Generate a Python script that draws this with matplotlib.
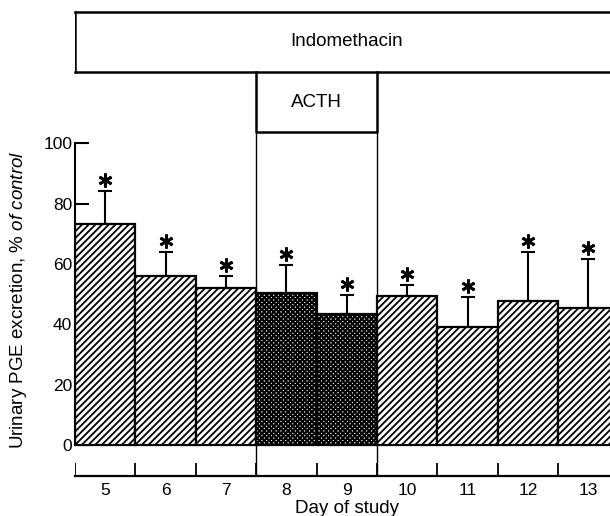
import matplotlib
matplotlib.use('Agg')
import matplotlib.pyplot as plt

# データ
days = [5, 6, 7, 8, 9, 10, 11, 12, 13]
pge_pct = [73.3, 56, 52, 50.3, 43.3, 49.3, 39, 47.7, 45.3]
pge_err = [10.7, 8, 4, 9.4, 6.4, 3.7, 10, 16.3, 16.4]
acth_days = [8, 9]

# 投与期間のラベル
treatments = ['Indomethacin', 'ACTH']
treat_start = [5, 8]
treat_end = [13, 9]

plt.rcParams['font.family'] = ['Liberation Sans', 'DejaVu Sans']
plt.rcParams['mathtext.fontset'] = 'custom'
plt.rcParams['mathtext.rm'] = 'Liberation Sans'
plt.rcParams['mathtext.it'] = 'Liberation Sans:italic'

fig = plt.figure(figsize=(6.1, 5.16), dpi=100)
ax = fig.add_axes([75 / 610, 0, 1 - 75 / 610, 1])
ax.set_xlim(4.5, 4.5 + 535 / 60.4)
ax.set_ylim(-23.5, 147.4)

# バー（ACTH 期間だけ網目）
plain_d = [d for d in days if d not in acth_days]
plain_v = [v for d, v in zip(days, pge_pct) if d not in acth_days]
acth_v = [v for d, v in zip(days, pge_pct) if d in acth_days]

with plt.rc_context({'hatch.linewidth': 1.3}):
    ax.bar(plain_d, plain_v, width=1.0, color='white', edgecolor='black',
           linewidth=1.6, hatch='/////', zorder=2)
with plt.rc_context({'hatch.linewidth': 1.5}):
    ax.bar(acth_days, acth_v, width=1.0, color='white', edgecolor='black',
           linewidth=1.6, hatch='xxxxxxx', zorder=2)

# 誤差棒（上側のみ）
ax.errorbar(days, pge_pct, yerr=[[0] * len(days), pge_err], fmt='none',
            ecolor='black', elinewidth=1.5, capsize=5.2, capthick=1.5, zorder=3)

# 有意差マーク
star_y = [v + e + 3.7 for v, e in zip(pge_pct, pge_err)]
ax.plot(days, star_y, linestyle='none', marker=(6, 2, 0), markersize=10,
        markeredgewidth=2.0, color='black', zorder=3)

# 縦軸
for s in ['top', 'right', 'bottom']:
    ax.spines[s].set_visible(False)
ax.spines['left'].set_bounds(0, 100)
ax.spines['left'].set_linewidth(1.5)
ax.set_yticks([0, 20, 40, 60, 80, 100])
ax.tick_params(axis='y', direction='in', length=10, width=1.5, pad=2,
               labelsize=12.5)
ax.set_xticks([])

# 日付の軸（ブラケット）
edges = [d - 0.5 for d in days]
ax.plot([edges[0], 14], [-10.3, -10.3], color='black', lw=1.6, clip_on=False)
ax.vlines(edges, -10.3, -6.0, color='black', lw=1.3)
for d in days:
    ax.text(d, -14.9, str(d), ha='center', va='center', fontsize=12.5)
ax.text(9, -20.9, 'Day of study', ha='center', va='center', fontsize=13.5)

# 投与期間の箱
ax.plot([4.5, 14], [143.4, 143.4], color='black', lw=1.8, clip_on=False)
ax.plot([4.5, 14], [123.5, 123.5], color='black', lw=1.8, clip_on=False)
ax.plot([4.5, 4.5], [123.5, 143.4], color='black', lw=1.8)
ax.text(9, 133.5, treatments[0], ha='center', va='center', fontsize=13.5)

a0, a1 = treat_start[1] - 0.5, treat_end[1] + 0.5
ax.plot([a0, a0, a1, a1], [123.5, 103.6, 103.6, 123.5], color='black', lw=1.8)
ax.text(8.5, 113.5, treatments[1], ha='center', va='center', fontsize=13.5)
ax.vlines([a0, a1], -10.3, 103.6, color='black', lw=1.0, zorder=1)

fig.text(19 / 610, 1 - 300 / 516,
         r'Urinary PGE excretion, $\mathit{\%\ of\ control}$',
         rotation=90, ha='center', va='center', fontsize=13.5)

fig.savefig('out.png', dpi=100)
